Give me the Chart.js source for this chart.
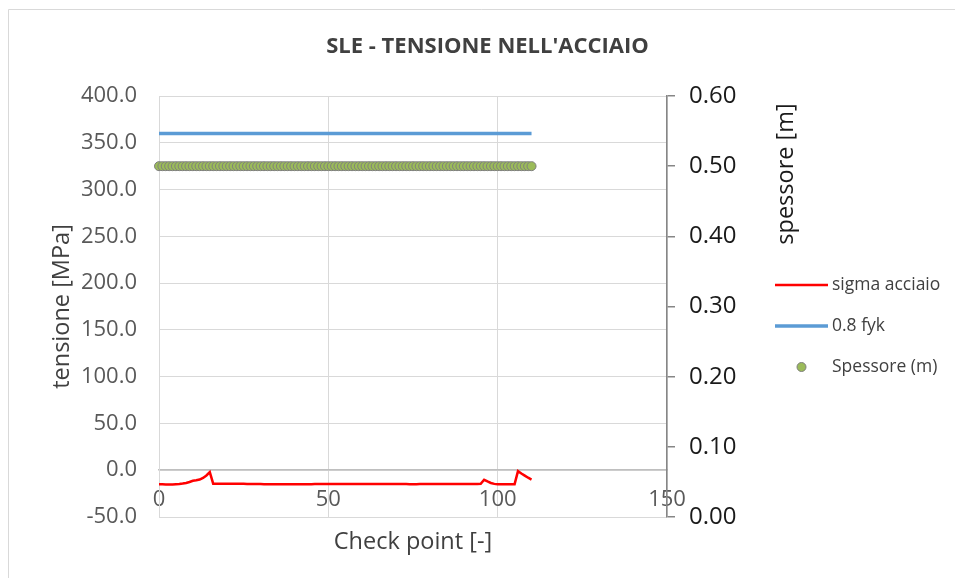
<!DOCTYPE html>
<html>
<head>
<meta charset="utf-8">
<script src="https://cdn.jsdelivr.net/npm/chart.js@4/dist/chart.umd.min.js"></script>
<style>
  html, body { margin: 0; padding: 0; background: #ffffff; }
  #wrap { width: 955px; height: 578px; position: relative; }
</style>
</head>
<body>
<div id="wrap"><canvas id="chart" width="955" height="578"></canvas></div>
<script>
// Check points along the wall
const checkPoints = [
  0,1,2,3,4,5,6,7,8,9,10,11,12,13,14,15,16,17,18,19,
  20,21,22,23,24,25,26,27,28,29,30,31,32,33,34,35,36,37,38,39,
  40,41,42,43,44,45,46,47,48,49,50,51,52,53,54,55,56,57,58,59,
  60,61,62,63,64,65,66,67,68,69,70,71,72,73,74,75,76,77,78,79,
  80,81,82,83,84,85,86,87,88,89,90,91,92,93,94,95,96,97,98,99,
  100,101,102,103,104,105,106,107,108,109,110
];

// Steel stress at SLE [MPa]
const sigmaAcciaio = [
  -15.0,-15.1,-15.2,-15.3,-15.2,-15.0,-14.8,-14.3,-13.6,-12.6,
  -11.3,-10.8,-10.0,-8.2,-5.6,-2.0,-14.4,-14.4,-14.4,-14.4,
  -14.4,-14.4,-14.5,-14.5,-14.5,-14.5,-14.6,-14.6,-14.6,-14.7,
  -14.8,-14.9,-15.0,-15.1,-15.1,-15.0,-15.0,-14.9,-14.9,-14.9,
  -14.9,-14.9,-14.9,-14.9,-14.9,-14.9,-14.8,-14.8,-14.8,-14.8,
  -14.8,-14.8,-14.8,-14.8,-14.8,-14.8,-14.8,-14.8,-14.8,-14.8,
  -14.8,-14.8,-14.8,-14.8,-14.8,-14.8,-14.8,-14.8,-14.8,-14.8,
  -14.8,-14.8,-14.8,-14.8,-14.9,-15.0,-14.9,-14.8,-14.8,-14.8,
  -14.8,-14.8,-14.8,-14.8,-14.8,-14.8,-14.8,-14.8,-14.8,-14.8,
  -14.8,-14.8,-14.8,-14.8,-14.7,-14.5,-10.2,-12.0,-13.6,-14.6,
  -14.9,-14.9,-14.9,-14.9,-14.9,-14.9,-1.0,-3.5,-5.8,-8.0,
  -10.0
];

// Stress limit 0.8 fyk [MPa]
const limite08fyk = [
  360,360,360,360,360,360,360,360,360,360,
  360,360,360,360,360,360,360,360,360,360,
  360,360,360,360,360,360,360,360,360,360,
  360,360,360,360,360,360,360,360,360,360,
  360,360,360,360,360,360,360,360,360,360,
  360,360,360,360,360,360,360,360,360,360,
  360,360,360,360,360,360,360,360,360,360,
  360,360,360,360,360,360,360,360,360,360,
  360,360,360,360,360,360,360,360,360,360,
  360,360,360,360,360,360,360,360,360,360,
  360,360,360,360,360,360,360,360,360,360,
  360
];

// Section thickness [m]
const spessore = [
  0.5,0.5,0.5,0.5,0.5,0.5,0.5,0.5,0.5,0.5,
  0.5,0.5,0.5,0.5,0.5,0.5,0.5,0.5,0.5,0.5,
  0.5,0.5,0.5,0.5,0.5,0.5,0.5,0.5,0.5,0.5,
  0.5,0.5,0.5,0.5,0.5,0.5,0.5,0.5,0.5,0.5,
  0.5,0.5,0.5,0.5,0.5,0.5,0.5,0.5,0.5,0.5,
  0.5,0.5,0.5,0.5,0.5,0.5,0.5,0.5,0.5,0.5,
  0.5,0.5,0.5,0.5,0.5,0.5,0.5,0.5,0.5,0.5,
  0.5,0.5,0.5,0.5,0.5,0.5,0.5,0.5,0.5,0.5,
  0.5,0.5,0.5,0.5,0.5,0.5,0.5,0.5,0.5,0.5,
  0.5,0.5,0.5,0.5,0.5,0.5,0.5,0.5,0.5,0.5,
  0.5,0.5,0.5,0.5,0.5,0.5,0.5,0.5,0.5,0.5,
  0.5
];

const seriesNames = ['sigma acciaio', '0.8 fyk', 'Spessore (m)'];
const chartTitle = "SLE - TENSIONE NELL'ACCIAIO";
const xTitle = 'Check point [-]';
const yLeftTitle = 'tensione [MPa]';
const yRightTitle = 'spessore [m]';

const FONT = "'Open Sans', 'DejaVu Sans', sans-serif";

const toXY = (vals) => checkPoints.map((x, i) => ({ x: x, y: vals[i] }));

// Outer frame and right-hand texts (secondary axis title, legend)
const decorations = {
  id: 'decorations',
  beforeDraw(chart) {
    const ctx = chart.ctx;
    ctx.save();
    ctx.fillStyle = '#ffffff';
    ctx.fillRect(0, 0, chart.width, chart.height);
    ctx.strokeStyle = '#d9d9d9';
    ctx.lineWidth = 1;
    ctx.beginPath();
    ctx.moveTo(8.5, chart.height);
    ctx.lineTo(8.5, 9.5);
    ctx.lineTo(chart.width, 9.5);
    ctx.stroke();
    ctx.restore();
  },
  afterDraw(chart) {
    const ctx = chart.ctx;
    ctx.save();
    // secondary axis title, reading bottom to top
    ctx.translate(786, 174);
    ctx.rotate(-Math.PI / 2);
    ctx.fillStyle = '#1a1a1a';
    ctx.font = "23.5px " + FONT;
    ctx.textAlign = 'center';
    ctx.textBaseline = 'middle';
    ctx.fillText(yRightTitle, 0, 0);
    ctx.restore();

    // legend
    const items = chart.data.datasets;
    const x0 = 775, x1 = 828, tx = 832;
    const rows = [285, 326, 367];
    ctx.save();
    ctx.font = "17.5px " + FONT;
    ctx.textBaseline = 'middle';
    ctx.textAlign = 'left';
    items.forEach((ds, i) => {
      const y = rows[i];
      if (ds.showLine === false) {
        ctx.beginPath();
        ctx.arc((x0 + x1) / 2, y, ds.pointRadius, 0, Math.PI * 2);
        ctx.fillStyle = ds.backgroundColor;
        ctx.fill();
        ctx.lineWidth = ds.borderWidth;
        ctx.strokeStyle = ds.borderColor;
        ctx.stroke();
      } else {
        ctx.beginPath();
        ctx.moveTo(x0, y);
        ctx.lineTo(x1, y);
        ctx.lineWidth = ds.borderWidth;
        ctx.strokeStyle = ds.borderColor;
        ctx.stroke();
      }
      ctx.fillStyle = '#404040';
      ctx.fillText(ds.label, tx, y);
    });
    ctx.restore();
  }
};

new Chart(document.getElementById('chart'), {
  type: 'line',
  data: {
    datasets: [
      {
        label: seriesNames[0],
        data: toXY(sigmaAcciaio),
        borderColor: '#ff0000',
        backgroundColor: '#ff0000',
        borderWidth: 2.5,
        pointRadius: 0,
        tension: 0,
        yAxisID: 'y',
        clip: false
      },
      {
        label: seriesNames[1],
        data: toXY(limite08fyk),
        borderColor: '#5b9bd5',
        backgroundColor: '#5b9bd5',
        borderWidth: 3.5,
        pointRadius: 0,
        tension: 0,
        yAxisID: 'y',
        clip: false
      },
      {
        label: seriesNames[2],
        data: toXY(spessore),
        showLine: false,
        pointRadius: 4.5,
        pointHoverRadius: 4.5,
        backgroundColor: '#9bbb59',
        borderColor: '#7f7f7f',
        borderWidth: 1,
        yAxisID: 'y1',
        clip: false
      }
    ]
  },
  options: {
    responsive: false,
    animation: false,
    devicePixelRatio: 1,
    layout: { padding: { left: 20, right: 0, top: 0, bottom: 61 } },
    plugins: {
      legend: { display: false },
      tooltip: { enabled: false },
      title: {
        display: true,
        text: chartTitle,
        color: '#404040',
        font: { family: FONT, size: 22, weight: 'bold' },
        padding: { top: 34, bottom: 35.6 }
      }
    },
    scales: {
      x: {
        type: 'linear',
        position: { y: 0 },
        min: 0,
        max: 150,
        ticks: {
          stepSize: 50,
          color: '#595959',
          font: { family: FONT, size: 22 },
          padding: 16,
          maxRotation: 0
        },
        grid: { color: '#d9d9d9', lineWidth: 1, drawTicks: false },
        border: { color: '#bfbfbf', width: 1.5 },
        title: {
          display: true,
          text: xTitle,
          color: '#404040',
          font: { family: FONT, size: 23.5 },
          padding: { top: 0, bottom: 0 }
        }
      },
      y: {
        type: 'linear',
        position: 'left',
        min: -50,
        max: 400,
        afterFit(scale) { scale.width = 139; },
        ticks: {
          stepSize: 50,
          color: '#595959',
          font: { family: FONT, size: 22 },
          padding: 22,
          callback: (v) => Number(v).toFixed(1)
        },
        grid: { color: '#d9d9d9', lineWidth: 1, drawTicks: false },
        border: { color: '#d9d9d9', width: 1 },
        title: {
          display: true,
          text: yLeftTitle,
          color: '#404040',
          font: { family: FONT, size: 23.5 },
          padding: { top: 28, bottom: 0 }
        }
      },
      y1: {
        type: 'linear',
        position: 'right',
        min: 0,
        max: 0.6,
        afterFit(scale) { scale.width = 288; },
        ticks: {
          stepSize: 0.1,
          color: '#1a1a1a',
          font: { family: FONT, size: 24 },
          padding: 14,
          callback: (v) => Number(v).toFixed(2)
        },
        grid: { drawOnChartArea: false, drawTicks: true, tickLength: 8, color: '#868686', lineWidth: 1.5 },
        border: { color: '#868686', width: 1.5 }
      }
    }
  },
  plugins: [decorations]
});
</script>
</body>
</html>
